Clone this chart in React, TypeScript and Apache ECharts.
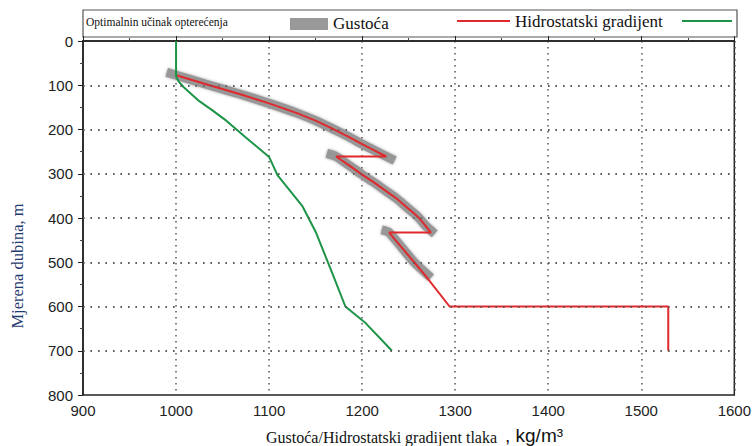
import React, { useEffect, useRef } from "react";
import * as echarts from "echarts";

const xTicks = [900, 1000, 1100, 1200, 1300, 1400, 1500, 1600];
const yTicks = [0, 100, 200, 300, 400, 500, 600, 700, 800];

const gray1Density = [990, 1001, 1036, 1070, 1100, 1130, 1150, 1168, 1185, 1200, 1213, 1235];
const gray1Depth = [71, 78, 100, 121, 141, 163, 180, 198, 216, 233, 247, 270];
const gray2Density = [1162, 1172, 1186, 1200, 1213, 1225, 1237, 1247, 1255, 1262, 1268, 1278];
const gray2Depth = [254, 261, 281, 302, 320, 338, 356, 374, 388, 402, 417, 436];
const gray3Density = [1221, 1229, 1256, 1274];
const gray3Depth = [427, 433, 500, 535];

const redDensity = [
  1001, 1036, 1070, 1100, 1130, 1150, 1168, 1185, 1200, 1213, 1226,
  1172, 1186, 1200, 1213, 1225, 1237, 1247, 1255, 1262, 1268, 1274,
  1229, 1256, 1268, 1294, 1529, 1529,
];
const redDepth = [
  78, 100, 121, 141, 163, 180, 198, 216, 233, 247, 261,
  261, 281, 302, 320, 338, 356, 374, 388, 402, 417, 433,
  433, 500, 530, 600, 600, 700,
];

const greenDensity = [1000, 1000, 1003, 1008, 1016, 1025, 1038, 1054, 1075, 1100, 1109, 1136, 1150, 1168, 1182, 1204, 1232];
const greenDepth = [0, 80, 92, 104, 119, 136, 155, 180, 218, 262, 303, 374, 431, 525, 600, 638, 700];

const zip = (xs: number[], ys: number[]) => xs.map((x, i) => [x, ys[i]]);

const SERIF = "'Liberation Serif', 'DejaVu Serif', serif";
const SANS = "'Liberation Sans', Arial, sans-serif";

export default function App() {
  const ref = useRef<HTMLDivElement>(null);
  useEffect(() => {
    if (!ref.current) return;
    const chart = echarts.init(ref.current, undefined, { renderer: "svg" });
    const grayStyle = {
      color: "#979797",
      width: 9,
      cap: "butt" as const,
      shadowBlur: 3,
      shadowColor: "rgba(130,130,130,0.7)",
    };
    const graySeries = [
      zip(gray1Density, gray1Depth),
      zip(gray2Density, gray2Depth),
      zip(gray3Density, gray3Depth),
    ].map((d) => ({
      type: "line",
      name: "Gustoća",
      data: d,
      symbol: "none",
      smooth: 0.2,
      lineStyle: grayStyle,
      silent: true,
    }));
    chart.setOption({
      animation: false,
      grid: {
        left: 83,
        right: 17,
        top: 41,
        bottom: 51,
        show: true,
        borderColor: "#222",
        borderWidth: 1.5,
        backgroundColor: "transparent",
      },
      xAxis: {
        type: "value",
        min: xTicks[0],
        max: xTicks[xTicks.length - 1],
        interval: 100,
        axisLine: { show: true, lineStyle: { color: "#222", width: 1.5 } },
        axisTick: { show: true, inside: true, length: 5, lineStyle: { color: "#222" } },
        minorTick: { show: true, splitNumber: 2, length: 3, lineStyle: { color: "#444" } },
        axisLabel: { color: "#222", fontSize: 15, fontFamily: SANS, margin: 8, formatter: (v: number) => String(v) },
        splitLine: { show: true, lineStyle: { color: "#555", type: [1.5, 4.5], width: 1.5 } },
      },
      yAxis: {
        type: "value",
        inverse: true,
        min: yTicks[0],
        max: yTicks[yTicks.length - 1],
        interval: 100,
        axisLine: { show: true, lineStyle: { color: "#222", width: 1.5 } },
        axisTick: { show: true, inside: false, length: 5, lineStyle: { color: "#222" } },
        minorTick: { show: true, splitNumber: 2, length: 3, lineStyle: { color: "#444" } },
        axisLabel: { color: "#222", fontSize: 15, fontFamily: SANS, margin: 10, formatter: (v: number) => String(v) },
        splitLine: { show: true, lineStyle: { color: "#555", type: [1.5, 6], width: 1.5 } },
      },
      series: [
        {
          type: "line",
          name: "grid",
          data: [],
          symbol: "none",
          silent: true,
          markLine: {
            silent: true,
            symbol: ["none", "none"],
            label: { show: false },
            lineStyle: { color: "#555", type: [1.5, 6], width: 1.5 },
            data: yTicks.slice(1, -1).map((v) => ({ yAxis: v })),
          },
        },
        ...graySeries,
        {
          type: "line",
          name: "Hidrostatski gradijent",
          data: zip(redDensity, redDepth),
          symbol: "none",
          lineStyle: { color: "#e0292d", width: 2 },
        },
        {
          type: "line",
          name: "Optimalnin učinak opterećenja",
          data: zip(greenDensity, greenDepth),
          symbol: "none",
          lineStyle: { color: "#1e9448", width: 2 },
        },
      ],
      graphic: [
        {
          type: "rect",
          shape: { x: 83, y: 10, width: 654, height: 27 },
          style: { fill: "#fff", stroke: "#555", lineWidth: 1.2 },
        },
        {
          type: "text",
          x: 86,
          y: 22,
          style: {
            text: "Optimalnin učinak opterećenja",
            font: `11.5px ${SERIF}`,
            fill: "#111",
            verticalAlign: "middle",
          },
        },
        {
          type: "rect",
          shape: { x: 290, y: 18, width: 38, height: 12 },
          style: { fill: "#999" },
        },
        {
          type: "text",
          x: 333,
          y: 23,
          style: { text: "Gustoća", font: `17px ${SERIF}`, fill: "#111", verticalAlign: "middle" },
        },
        {
          type: "line",
          shape: { x1: 457, y1: 21, x2: 510, y2: 21 },
          style: { stroke: "#e0292d", lineWidth: 2 },
        },
        {
          type: "text",
          x: 515,
          y: 21,
          style: {
            text: "Hidrostatski gradijent",
            font: `17px ${SERIF}`,
            fill: "#111",
            verticalAlign: "middle",
          },
        },
        {
          type: "line",
          shape: { x1: 682, y1: 21, x2: 732, y2: 21 },
          style: { stroke: "#1e9448", lineWidth: 2 },
        },
        {
          type: "text",
          x: 17,
          y: 266,
          rotation: Math.PI / 2,
          style: {
            text: "Mjerena dubina, m",
            font: `16.5px ${SERIF}`,
            fill: "#1f3a6e",
            align: "center",
            verticalAlign: "middle",
          },
        },
        {
          type: "text",
          x: 266,
          y: 437,
          style: {
            text: "Gustoća/Hidrostatski gradijent tlaka",
            font: `16px ${SERIF}`,
            fill: "#111",
            verticalAlign: "middle",
          },
        },
        {
          type: "text",
          x: 505,
          y: 435,
          style: {
            text: ", kg/m³",
            font: `19px ${SANS}`,
            fill: "#111",
            verticalAlign: "middle",
          },
        },
      ],
    });
    return () => chart.dispose();
  }, []);
  return (
    <div
      ref={ref}
      style={{ position: "fixed", left: 0, top: 0, width: 754, height: 446, background: "#fff" }}
    />
  );
}
